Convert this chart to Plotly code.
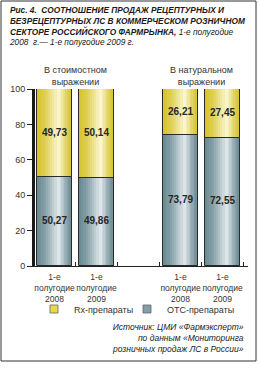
import plotly.graph_objects as go

# ---- data ----
x_pos = [0, 1, 3, 4]
x_labels = ["1-е<br>полугодие<br>2008", "1-е<br>полугодие<br>2009",
            "1-е<br>полугодие<br>2008", "1-е<br>полугодие<br>2009"]
otc = [50.27, 49.86, 73.79, 72.55]
rx = [49.73, 50.14, 26.21, 27.45]
series_names = ["Rx-препараты", "ОТС-препараты"]
group_labels = ["В стоимостном<br>выражении", "В натуральном<br>выражении"]
group_x = [0.5, 3.5]
y_ticks = [0, 20, 40, 60, 80, 100]
title_text = ("Рис. 4.  СООТНОШЕНИЕ ПРОДАЖ РЕЦЕПТУРНЫХ И<br>"
              "БЕЗРЕЦЕПТУРНЫХ ЛС В КОММЕРЧЕСКОМ РОЗНИЧНОМ<br>"
              "СЕКТОРЕ РОССИЙСКОГО ФАРМРЫНКА, <span style='font-weight:normal'>1-е полугодие</span><br>"
              "<span style='font-weight:normal'>2008  г.— 1-е полугодие 2009 г.</span>")
source_text = ("Источник: ЦМИ «Фармэксперт»<br>"
               "по данным «Мониторинга<br>"
               "розничных продаж ЛС в России»")

# ---- style ----
FONT = "Liberation Sans, Arial, sans-serif"
W_PX, H_PX = 258, 368
L, R, T, B = 35, 10, 89, 102
BAR_W = 0.83
N_LAYERS = 10
HL = 0.62  # highlight position across bar


def mix(c1, c2, t):
    return "rgb(%d,%d,%d)" % tuple(round(a + (b - a) * t) for a, b in zip(c1, c2))


YEL_EDGE, YEL_HI = (214, 196, 48), (255, 252, 225)
GRY_EDGE, GRY_HI = (108, 140, 148), (236, 242, 243)

fig = go.Figure()


def add_gradient(values, bases, edge, hi):
    for k in range(N_LAYERS):
        t = k / N_LAYERS
        left = -BAR_W / 2 + t * HL * BAR_W
        right = BAR_W / 2 - t * (1 - HL) * BAR_W
        fig.add_trace(go.Bar(
            x=x_pos, y=values, base=bases,
            width=right - left, offset=left,
            marker=dict(color=mix(edge, hi, t ** 1.3), line=dict(width=0)),
            showlegend=False, hoverinfo="skip"))


add_gradient(otc, [0] * 4, GRY_EDGE, GRY_HI)
add_gradient(rx, otc, YEL_EDGE, YEL_HI)

# outlines
for vals, bases in ((otc, [0] * 4), (rx, otc)):
    fig.add_trace(go.Bar(
        x=x_pos, y=vals, base=bases, width=BAR_W,
        marker=dict(color="rgba(0,0,0,0)", line=dict(color="#2a2a2a", width=1)),
        showlegend=False, hoverinfo="skip"))

# value labels
fmt = lambda v: f"{v:.2f}".replace(".", ",")
fig.add_trace(go.Scatter(
    x=x_pos, y=[o / 2 for o in otc], mode="text", text=[fmt(v) for v in otc],
    textfont=dict(family=FONT, size=10, color="#262626", weight="bold"),
    showlegend=False, hoverinfo="skip"))
fig.add_trace(go.Scatter(
    x=x_pos, y=[o + r / 2 for o, r in zip(otc, rx)], mode="text", text=[fmt(v) for v in rx],
    textfont=dict(family=FONT, size=10, color="#262626", weight="bold"),
    showlegend=False, hoverinfo="skip"))

# legend entries (two separate legends for precise placement)
fig.add_trace(go.Scatter(x=[None], y=[None], mode="markers", name=series_names[0],
                         legend="legend",
                         marker=dict(symbol="square", size=8, color="rgb(232,216,80)",
                                     line=dict(color="#666", width=0.8))))
fig.add_trace(go.Scatter(x=[None], y=[None], mode="markers", name=series_names[1],
                         legend="legend2",
                         marker=dict(symbol="square", size=8, color="rgb(130,160,166)",
                                     line=dict(color="#666", width=0.8))))

pw, ph = W_PX - L - R, H_PX - T - B
px = lambda p: (p - L) / pw
py = lambda p: (H_PX - B - p) / ph

annotations = [
    dict(text=title_text, xref="paper", yref="paper", x=px(7), y=py(3),
         xanchor="left", yanchor="top", align="left", showarrow=False,
         font=dict(family=FONT, size=8.3, color="#1a1a1a", weight="bold", style="italic")),
    dict(text=source_text, xref="paper", yref="paper", x=px(246), y=py(320),
         xanchor="right", yanchor="top", align="right", showarrow=False,
         font=dict(family=FONT, size=8.5, color="#222", style="italic")),
]
for gx, gl in zip(group_x, group_labels):
    annotations.append(dict(text=gl, x=gx, xref="x", yref="paper", y=py(75.5),
                            xanchor="center", yanchor="middle", showarrow=False,
                            font=dict(family=FONT, size=9, color="#333")))

leg_common = dict(orientation="h", yanchor="middle", xanchor="left", y=py(309),
                  itemwidth=30, font=dict(family=FONT, size=9, color="#333"),
                  bgcolor="rgba(0,0,0,0)")

fig.update_layout(
    width=W_PX, height=H_PX,
    margin=dict(l=L, r=R, t=T, b=B, pad=0, autoexpand=False),
    paper_bgcolor="white", plot_bgcolor="white",
    barmode="overlay", bargap=0,
    font=dict(family=FONT, size=9, color="#333"),
    showlegend=True,
    legend=dict(x=px(34), **leg_common),
    legend2=dict(x=px(127), **leg_common),
    xaxis=dict(range=[-0.464, 4.607], tickmode="array", tickvals=x_pos, ticktext=x_labels,
               tickangle=0, automargin=False, ticklabelstandoff=3,
               ticks="", showgrid=False, zeroline=False, showline=True,
               linecolor="#222", linewidth=1, tickfont=dict(size=8.5, color="#333"),
               minor=dict(tickmode="array", tickvals=[0.5, 1.5, 2.5, 3.5, 4.5],
                          ticks="inside", ticklen=4, tickcolor="#222", tickwidth=1,
                          showgrid=False)),
    yaxis=dict(range=[0, 100], tickvals=y_ticks, ticks="outside", ticklen=5,
               tickcolor="#222", tickwidth=1, showgrid=False, zeroline=False,
               showline=True, linecolor="#1a1a1a", linewidth=3, automargin=False,
               tickfont=dict(size=9, color="#333")),
    annotations=annotations,
    shapes=[dict(type="rect", xref="paper", yref="paper",
                 x0=px(1), x1=px(256), y0=py(361), y1=py(1),
                 line=dict(color="#333", width=1), fillcolor="rgba(0,0,0,0)")],
)

fig.write_html("out.html")
